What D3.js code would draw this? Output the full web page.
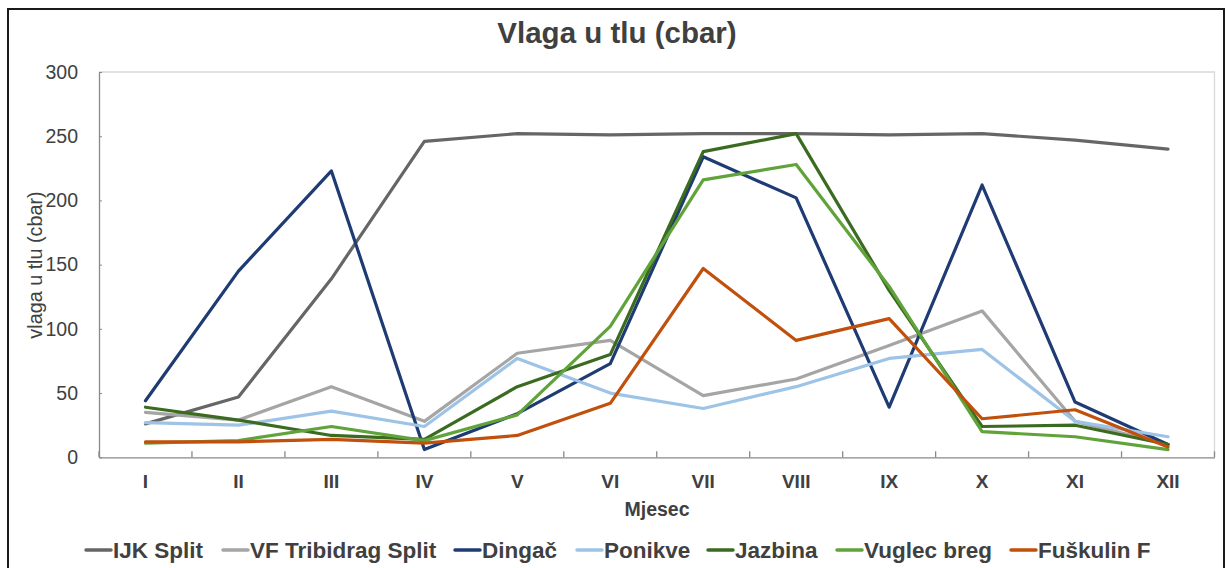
<!DOCTYPE html>
<html>
<head>
<meta charset="utf-8">
<title>Vlaga u tlu (cbar)</title>
<script src="https://d3js.org/d3.v7.min.js"></script>
<style>
body, html {
  margin: 0;
  background: #fff;
}
svg {
  display: block;
  font-family: "Liberation Sans", Arial, sans-serif;
}
.axis path, .axis line {
  stroke: #898989;
}
.axis text {
  fill: #404040;
}
</style>
</head>
<body>
<script>
// mjeseci
var months = ["I", "II", "III", "IV", "V", "VI", "VII", "VIII", "IX", "X", "XI", "XII"];

// vrijednosti po postaji (cbar)
var ijkSplit     = [26, 47, 139, 246, 252, 251, 252, 252, 251, 252, 247, 240];
var vfTribidrag  = [35, 29, 55, 28, 81, 91, 48, 61, 87, 114, 28, 10];
var dingac       = [44, 145, 223, 6, 34, 73, 234, 202, 39, 212, 43, 10];
var ponikve      = [27, 25, 36, 24, 77, 50, 38, 55, 77, 84, 28, 16];
var jazbina      = [39, 29, 17, 14, 55, 80, 238, 252, 130, 24, 25, 10];
var vuglecBreg   = [11, 13, 24, 13, 33, 102, 216, 228, 133, 20, 16, 6];
var fuskulin     = [12, 12, 14, 11, 17, 42, 147, 91, 108, 30, 37, 8];

var seriesNames = ["IJK Split", "VF Tribidrag Split", "Dingač", "Ponikve", "Jazbina", "Vuglec breg", "Fuškulin F"];
var seriesColors = ["#666666", "#a5a5a5", "#1f3b73", "#9dc3e6", "#3a6b20", "#5fa33a", "#c0500c"];
var yTicks = [0, 50, 100, 150, 200, 250, 300];

var series = [ijkSplit, vfTribidrag, dingac, ponikve, jazbina, vuglecBreg, fuskulin].map(function(vals, i) {
  return {name: seriesNames[i], color: seriesColors[i], values: vals};
});

var W = 1226, H = 568;
var pLeft = 99, pRight = 1214.5, pTop = 72, pBottom = 457.3;

var svg = d3.select("body").append("svg")
  .attr("width", W)
  .attr("height", H);

// okvir
svg.append("rect")
  .attr("x", 8).attr("y", 9)
  .attr("width", 1216).attr("height", 620)
  .attr("fill", "none")
  .attr("stroke", "#1a1a1a")
  .attr("stroke-width", 2);

var x = d3.scaleBand()
  .domain(months)
  .range([pLeft, pRight])
  .padding(0);

var y = d3.scaleLinear()
  .domain([0, 300])
  .range([pBottom, pTop]);

// rub podrucja grafa (gore + desno)
svg.append("path")
  .attr("d", "M" + pLeft + "," + pTop + "H" + pRight + "V" + pBottom)
  .attr("fill", "none")
  .attr("stroke", "#d9d9d9")
  .attr("stroke-width", 1.3);

// y os
var yAxis = svg.append("g")
  .attr("class", "axis")
  .attr("transform", "translate(" + pLeft + ",0)")
  .call(d3.axisLeft(y).tickValues(yTicks).tickSizeInner(-3).tickSizeOuter(0).tickPadding(21));
yAxis.selectAll("text")
  .style("font-size", "19.5px");
yAxis.select(".domain").attr("stroke-width", 1.3);

// x os - oznake
var xAxis = svg.append("g")
  .attr("class", "axis")
  .attr("transform", "translate(0," + pBottom + ")")
  .call(d3.axisBottom(x).tickSize(0).tickPadding(17));
xAxis.selectAll("text")
  .style("font-size", "19px")
  .style("font-weight", "bold");
xAxis.select(".domain").attr("stroke-width", 1.3);

// x os - crtice na granicama
var bounds = months.map(function(m) { return x(m); }).concat([x(months[months.length - 1]) + x.bandwidth()]);
svg.append("g")
  .selectAll("line")
  .data(bounds)
  .enter().append("line")
  .attr("x1", function(d) { return d; })
  .attr("x2", function(d) { return d; })
  .attr("y1", pBottom)
  .attr("y2", pBottom - 6)
  .attr("stroke", "#898989")
  .attr("stroke-width", 1.3);

// linije
var line = d3.line()
  .x(function(d, i) { return x(months[i]) + x.bandwidth() / 2; })
  .y(function(d) { return y(d); });

svg.append("g")
  .selectAll("path")
  .data(series)
  .enter().append("path")
  .attr("d", function(d) { return line(d.values); })
  .attr("fill", "none")
  .attr("stroke", function(d) { return d.color; })
  .attr("stroke-width", 3.2)
  .attr("stroke-linejoin", "round")
  .attr("stroke-linecap", "round");

// naslov
svg.append("text")
  .attr("x", 617)
  .attr("y", 43)
  .attr("text-anchor", "middle")
  .style("font-size", "29.5px")
  .style("font-weight", "bold")
  .attr("fill", "#404040")
  .text("Vlaga u tlu (cbar)");

// naslovi osi
svg.append("text")
  .attr("x", 657)
  .attr("y", 516)
  .attr("text-anchor", "middle")
  .style("font-size", "19.5px")
  .style("font-weight", "bold")
  .attr("fill", "#404040")
  .text("Mjesec");

svg.append("text")
  .attr("transform", "translate(42,265) rotate(-90)")
  .attr("text-anchor", "middle")
  .style("font-size", "19.8px")
  .attr("fill", "#404040")
  .text("vlaga u tlu (cbar)");

// legenda
var legendX = [86, 223, 455, 577, 708, 837, 1011];
var leg = svg.append("g")
  .selectAll("g")
  .data(series)
  .enter().append("g")
  .attr("transform", function(d, i) { return "translate(" + legendX[i] + ",550)"; });

leg.append("line")
  .attr("x1", 0).attr("x2", 25)
  .attr("y1", 0).attr("y2", 0)
  .attr("stroke", function(d) { return d.color; })
  .attr("stroke-width", 3.5)
  .attr("stroke-linecap", "round");

leg.append("text")
  .attr("x", 27)
  .attr("y", 8)
  .style("font-size", "22.5px")
  .style("font-weight", "bold")
  .attr("fill", "#404040")
  .text(function(d) { return d.name; });
</script>
</body>
</html>
